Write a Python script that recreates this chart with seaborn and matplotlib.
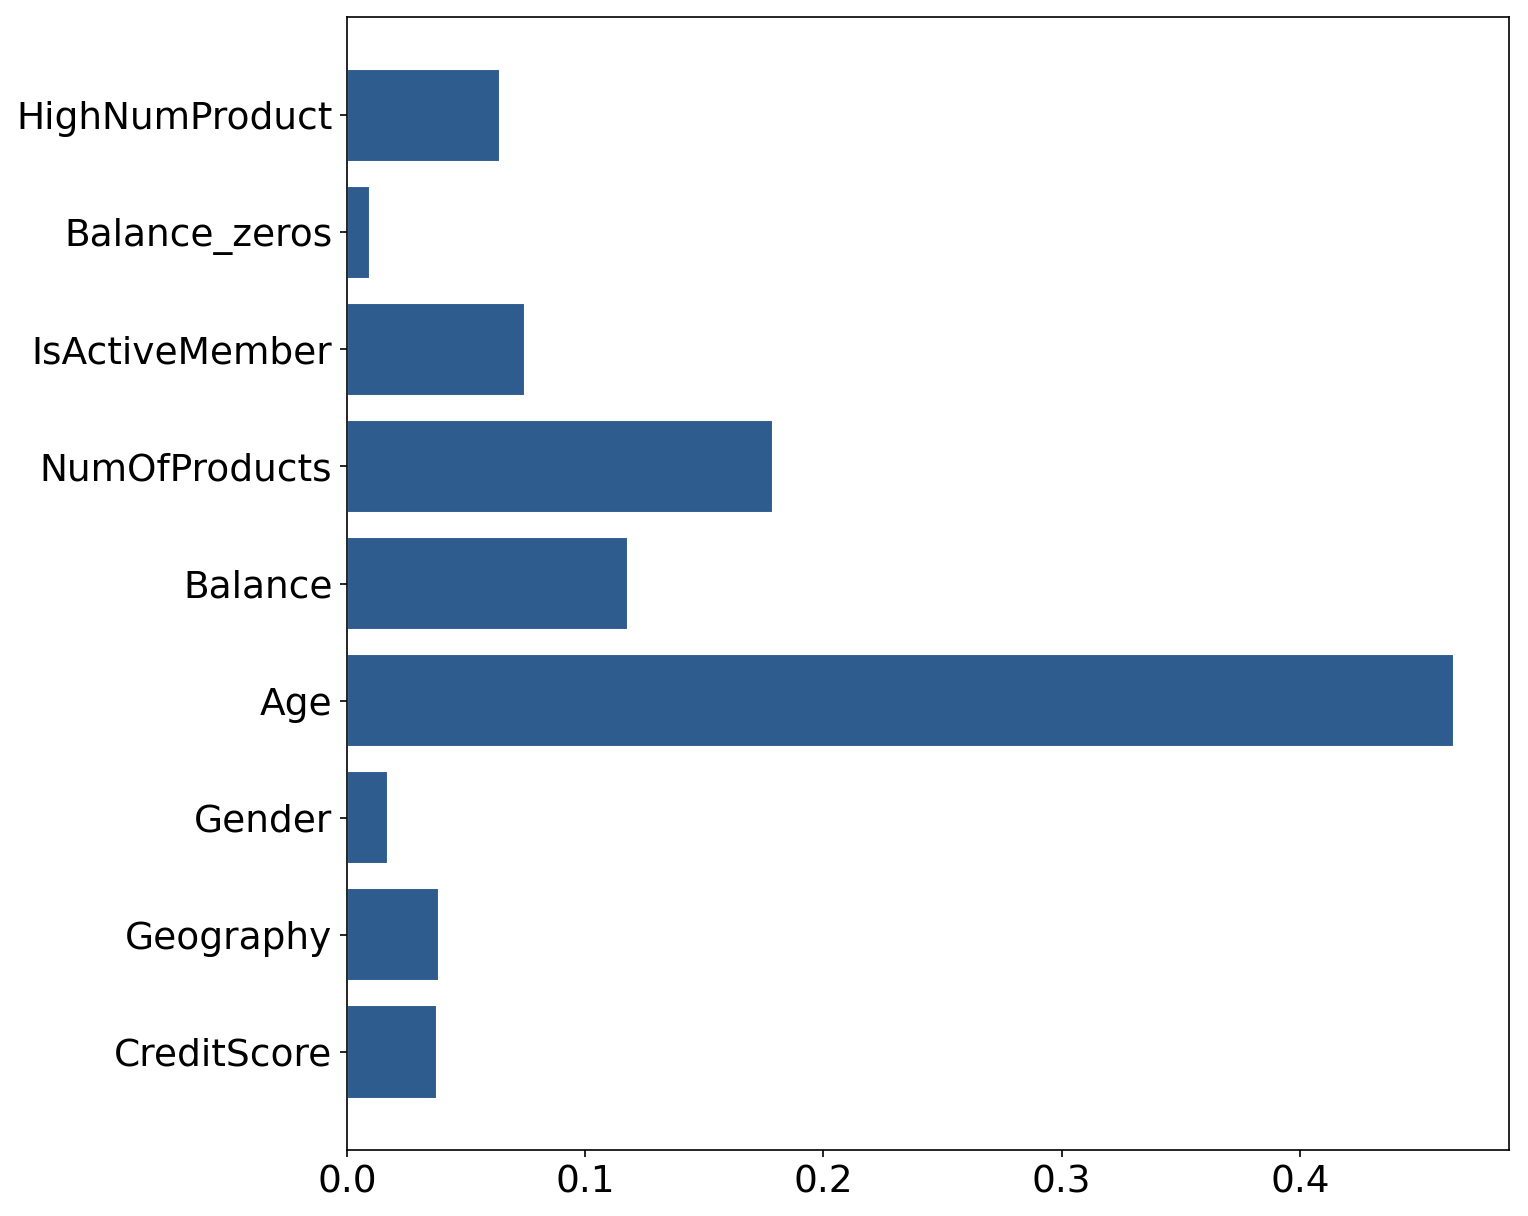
import matplotlib
matplotlib.use("Agg")
import matplotlib.pyplot as plt
import pandas as pd
import seaborn as sns

features = ["CreditScore", "Geography", "Gender", "Age", "Balance",
            "NumOfProducts", "IsActiveMember", "Balance_zeros", "HighNumProduct"]
importance = [0.0378, 0.0386, 0.0173, 0.4645, 0.1178,
              0.1790, 0.0747, 0.0097, 0.0642]

bar_color = "#2e5c8e"


def main():
    sns.set_style("ticks")
    plt.rcParams["font.family"] = ["DejaVu Sans"]

    df = pd.DataFrame({"feature": features, "importance": importance})

    fig = plt.figure(figsize=(1528 / 150, 1216 / 150), dpi=150)
    ax = fig.add_axes([347 / 1528, 1 - 1150 / 1216, (1509 - 347) / 1528, (1150 - 17) / 1216])

    sns.barplot(data=df, y="feature", x="importance", order=features,
                orient="h", color=bar_color, saturation=1, width=0.8, ax=ax)

    ax.set_ylim(-0.84, len(features) - 1 + 0.84)
    ax.set_xlim(0, max(importance) * 1.05)
    ax.set_xlabel("")
    ax.set_ylabel("")
    ax.set_xticks([0.0, 0.1, 0.2, 0.3, 0.4])
    ax.set_xticklabels(["0.0", "0.1", "0.2", "0.3", "0.4"])
    ax.tick_params(labelsize=18, length=3.5, width=0.8, colors="black")
    for s in ax.spines.values():
        s.set_visible(True)
        s.set_color("black")
        s.set_linewidth(0.8)

    fig.savefig("out.png", dpi=150)


if __name__ == '__main__':
    main()
